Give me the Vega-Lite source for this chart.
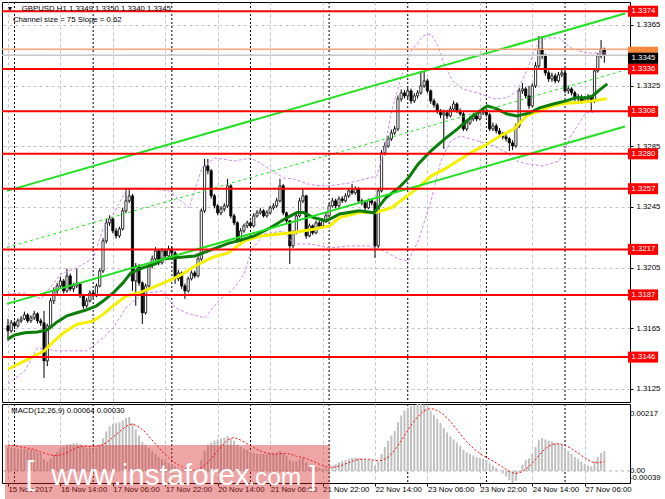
{
"$schema":"https://vega.github.io/schema/vega-lite/v6.json",
"padding":{"left":0,"top":1,"right":0,"bottom":0},
"background":"white",
"spacing":0,
"config":{"view":{"stroke":"#000","strokeWidth":1},"font":"Liberation Sans",
"axis":{"labelFont":"Liberation Sans","labelFontSize":7.8,"labelColor":"#000","gridColor":"#c4c4c4","gridDash":[3,3],"gridWidth":1,"domain":false,"title":null}},
"datasets":{
"bars":[
{"i":0,"o":1.31666,"h":1.31712,"l":1.31567,"c":1.31633,"m":0.00075,"s":0.00084},
{"i":1,"o":1.31633,"h":1.31705,"l":1.31620,"c":1.31686,"m":0.00076,"s":0.00083},
{"i":2,"o":1.31686,"h":1.31700,"l":1.31645,"c":1.31666,"m":0.00074,"s":0.00082},
{"i":3,"o":1.31666,"h":1.31715,"l":1.31655,"c":1.31699,"m":0.00073,"s":0.00080},
{"i":4,"o":1.31699,"h":1.31730,"l":1.31685,"c":1.31712,"m":0.00072,"s":0.00078},
{"i":5,"o":1.31712,"h":1.31760,"l":1.31705,"c":1.31738,"m":0.00072,"s":0.00076},
{"i":6,"o":1.31738,"h":1.31750,"l":1.31685,"c":1.31699,"m":0.00070,"s":0.00074},
{"i":7,"o":1.31699,"h":1.31735,"l":1.31686,"c":1.31719,"m":0.00070,"s":0.00072},
{"i":8,"o":1.31719,"h":1.31765,"l":1.31705,"c":1.31745,"m":0.00068,"s":0.00070},
{"i":9,"o":1.31745,"h":1.31755,"l":1.31680,"c":1.31699,"m":0.00062,"s":0.00066},
{"i":10,"o":1.31699,"h":1.31715,"l":1.31665,"c":1.31686,"m":0.00058,"s":0.00062},
{"i":11,"o":1.31686,"h":1.31765,"l":1.31323,"c":1.31435,"m":0.00038,"s":0.00058},
{"i":12,"o":1.31435,"h":1.31680,"l":1.31400,"c":1.31666,"m":0.00030,"s":0.00055},
{"i":13,"o":1.31666,"h":1.31850,"l":1.31650,"c":1.31831,"m":0.00040,"s":0.00052},
{"i":14,"o":1.31831,"h":1.31920,"l":1.31810,"c":1.31896,"m":0.00052,"s":0.00050},
{"i":15,"o":1.31896,"h":1.31950,"l":1.31875,"c":1.31929,"m":0.00062,"s":0.00050},
{"i":16,"o":1.31929,"h":1.31990,"l":1.31910,"c":1.31962,"m":0.00072,"s":0.00052},
{"i":17,"o":1.31962,"h":1.31975,"l":1.31880,"c":1.31896,"m":0.00078,"s":0.00055},
{"i":18,"o":1.31896,"h":1.32042,"l":1.31885,"c":1.31995,"m":0.00086,"s":0.00060},
{"i":19,"o":1.31995,"h":1.32010,"l":1.31895,"c":1.31910,"m":0.00088,"s":0.00065},
{"i":20,"o":1.31910,"h":1.31950,"l":1.31890,"c":1.31929,"m":0.00090,"s":0.00070},
{"i":21,"o":1.31929,"h":1.32042,"l":1.31915,"c":1.31943,"m":0.00090,"s":0.00075},
{"i":22,"o":1.31943,"h":1.31955,"l":1.31850,"c":1.31864,"m":0.00086,"s":0.00079},
{"i":23,"o":1.31864,"h":1.31875,"l":1.31778,"c":1.31798,"m":0.00078,"s":0.00081},
{"i":24,"o":1.31798,"h":1.31850,"l":1.31785,"c":1.31831,"m":0.00074,"s":0.00080},
{"i":25,"o":1.31831,"h":1.31900,"l":1.31820,"c":1.31883,"m":0.00074,"s":0.00079},
{"i":26,"o":1.31883,"h":1.31900,"l":1.31850,"c":1.31864,"m":0.00072,"s":0.00079},
{"i":27,"o":1.31864,"h":1.31945,"l":1.31855,"c":1.31929,"m":0.00076,"s":0.00080},
{"i":28,"o":1.31929,"h":1.32045,"l":1.31920,"c":1.32028,"m":0.00085,"s":0.00082},
{"i":29,"o":1.32028,"h":1.32245,"l":1.32015,"c":1.32226,"m":0.00105,"s":0.00086},
{"i":30,"o":1.32226,"h":1.32370,"l":1.32210,"c":1.32345,"m":0.00128,"s":0.00092},
{"i":31,"o":1.32345,"h":1.32395,"l":1.32325,"c":1.32371,"m":0.00145,"s":0.00100},
{"i":32,"o":1.32371,"h":1.32380,"l":1.32275,"c":1.32292,"m":0.00152,"s":0.00109},
{"i":33,"o":1.32292,"h":1.32310,"l":1.32240,"c":1.32259,"m":0.00155,"s":0.00118},
{"i":34,"o":1.32259,"h":1.32320,"l":1.32245,"c":1.32305,"m":0.00158,"s":0.00127},
{"i":35,"o":1.32305,"h":1.32445,"l":1.32295,"c":1.32424,"m":0.00165,"s":0.00136},
{"i":36,"o":1.32424,"h":1.32569,"l":1.32410,"c":1.32490,"m":0.00172,"s":0.00144},
{"i":37,"o":1.32490,"h":1.32569,"l":1.32475,"c":1.32523,"m":0.00175,"s":0.00150},
{"i":38,"o":1.32523,"h":1.32535,"l":1.31896,"c":1.31962,"m":0.00155,"s":0.00152},
{"i":39,"o":1.31962,"h":1.32080,"l":1.31798,"c":1.32061,"m":0.00135,"s":0.00148},
{"i":40,"o":1.32061,"h":1.32075,"l":1.31930,"c":1.31949,"m":0.00115,"s":0.00142},
{"i":41,"o":1.31949,"h":1.31960,"l":1.31679,"c":1.31752,"m":0.00095,"s":0.00134},
{"i":42,"o":1.31752,"h":1.31945,"l":1.31740,"c":1.31929,"m":0.00085,"s":0.00124},
{"i":43,"o":1.31929,"h":1.32080,"l":1.31920,"c":1.32061,"m":0.00075,"s":0.00112},
{"i":44,"o":1.32061,"h":1.32130,"l":1.32045,"c":1.32107,"m":0.00065,"s":0.00100},
{"i":45,"o":1.32107,"h":1.32185,"l":1.32095,"c":1.32160,"m":0.00055,"s":0.00088},
{"i":46,"o":1.32160,"h":1.32170,"l":1.32065,"c":1.32081,"m":0.00045,"s":0.00076},
{"i":47,"o":1.32081,"h":1.32180,"l":1.32070,"c":1.32160,"m":0.00038,"s":0.00064},
{"i":48,"o":1.32160,"h":1.32175,"l":1.32110,"c":1.32127,"m":0.00030,"s":0.00053},
{"i":49,"o":1.32127,"h":1.32195,"l":1.32115,"c":1.32173,"m":0.00025,"s":0.00043},
{"i":50,"o":1.32173,"h":1.32190,"l":1.32130,"c":1.32147,"m":0.00022,"s":0.00034},
{"i":51,"o":1.32147,"h":1.32160,"l":1.31943,"c":1.31976,"m":0.00015,"s":0.00026},
{"i":52,"o":1.31976,"h":1.32035,"l":1.31960,"c":1.32015,"m":0.00010,"s":0.00020},
{"i":53,"o":1.32015,"h":1.32025,"l":1.31910,"c":1.31929,"m":0.00005,"s":0.00014},
{"i":54,"o":1.31929,"h":1.31945,"l":1.31844,"c":1.31896,"m":0.00000,"s":0.00009},
{"i":55,"o":1.31896,"h":1.31990,"l":1.31885,"c":1.31976,"m":-0.00002,"s":0.00005},
{"i":56,"o":1.31976,"h":1.32030,"l":1.31965,"c":1.32015,"m":-0.00002,"s":0.00003},
{"i":57,"o":1.32015,"h":1.32030,"l":1.31980,"c":1.31995,"m":0.00000,"s":0.00003},
{"i":58,"o":1.31995,"h":1.32125,"l":1.31985,"c":1.32107,"m":0.00008,"s":0.00005},
{"i":59,"o":1.32107,"h":1.32440,"l":1.32095,"c":1.32424,"m":0.00035,"s":0.00010},
{"i":60,"o":1.32424,"h":1.32767,"l":1.32410,"c":1.32720,"m":0.00065,"s":0.00018},
{"i":61,"o":1.32720,"h":1.32767,"l":1.32665,"c":1.32688,"m":0.00085,"s":0.00028},
{"i":62,"o":1.32688,"h":1.32700,"l":1.32505,"c":1.32523,"m":0.00092,"s":0.00040},
{"i":63,"o":1.32523,"h":1.32535,"l":1.32440,"c":1.32457,"m":0.00098,"s":0.00052},
{"i":64,"o":1.32457,"h":1.32470,"l":1.32395,"c":1.32411,"m":0.00102,"s":0.00065},
{"i":65,"o":1.32411,"h":1.32455,"l":1.32395,"c":1.32437,"m":0.00105,"s":0.00078},
{"i":66,"o":1.32437,"h":1.32475,"l":1.32420,"c":1.32457,"m":0.00108,"s":0.00090},
{"i":67,"o":1.32457,"h":1.32635,"l":1.32445,"c":1.32589,"m":0.00112,"s":0.00100},
{"i":68,"o":1.32589,"h":1.32600,"l":1.32375,"c":1.32391,"m":0.00105,"s":0.00106},
{"i":69,"o":1.32391,"h":1.32405,"l":1.32330,"c":1.32345,"m":0.00098,"s":0.00108},
{"i":70,"o":1.32345,"h":1.32355,"l":1.32213,"c":1.32226,"m":0.00085,"s":0.00105},
{"i":71,"o":1.32226,"h":1.32310,"l":1.32215,"c":1.32292,"m":0.00078,"s":0.00100},
{"i":72,"o":1.32292,"h":1.32340,"l":1.32280,"c":1.32325,"m":0.00072,"s":0.00094},
{"i":73,"o":1.32325,"h":1.32360,"l":1.32310,"c":1.32345,"m":0.00068,"s":0.00088},
{"i":74,"o":1.32345,"h":1.32360,"l":1.32310,"c":1.32325,"m":0.00062,"s":0.00082},
{"i":75,"o":1.32325,"h":1.32410,"l":1.32315,"c":1.32391,"m":0.00058,"s":0.00076},
{"i":76,"o":1.32391,"h":1.32430,"l":1.32380,"c":1.32411,"m":0.00056,"s":0.00070},
{"i":77,"o":1.32411,"h":1.32445,"l":1.32400,"c":1.32424,"m":0.00055,"s":0.00065},
{"i":78,"o":1.32424,"h":1.32435,"l":1.32380,"c":1.32391,"m":0.00055,"s":0.00061},
{"i":79,"o":1.32391,"h":1.32430,"l":1.32380,"c":1.32411,"m":0.00055,"s":0.00058},
{"i":80,"o":1.32411,"h":1.32460,"l":1.32400,"c":1.32444,"m":0.00056,"s":0.00056},
{"i":81,"o":1.32444,"h":1.32475,"l":1.32430,"c":1.32457,"m":0.00058,"s":0.00055},
{"i":82,"o":1.32457,"h":1.32510,"l":1.32445,"c":1.32490,"m":0.00060,"s":0.00055},
{"i":83,"o":1.32490,"h":1.32635,"l":1.32480,"c":1.32589,"m":0.00065,"s":0.00056},
{"i":84,"o":1.32589,"h":1.32600,"l":1.32395,"c":1.32411,"m":0.00058,"s":0.00057},
{"i":85,"o":1.32411,"h":1.32420,"l":1.32340,"c":1.32358,"m":0.00050,"s":0.00057},
{"i":86,"o":1.32358,"h":1.32365,"l":1.32074,"c":1.32193,"m":0.00035,"s":0.00055},
{"i":87,"o":1.32193,"h":1.32295,"l":1.32180,"c":1.32279,"m":0.00030,"s":0.00052},
{"i":88,"o":1.32279,"h":1.32410,"l":1.32270,"c":1.32391,"m":0.00032,"s":0.00048},
{"i":89,"o":1.32391,"h":1.32510,"l":1.32380,"c":1.32490,"m":0.00038,"s":0.00045},
{"i":90,"o":1.32490,"h":1.32575,"l":1.32475,"c":1.32523,"m":0.00042,"s":0.00043},
{"i":91,"o":1.32523,"h":1.32530,"l":1.32240,"c":1.32259,"m":0.00028,"s":0.00040},
{"i":92,"o":1.32259,"h":1.32340,"l":1.32250,"c":1.32325,"m":0.00020,"s":0.00036},
{"i":93,"o":1.32325,"h":1.32335,"l":1.32265,"c":1.32279,"m":0.00015,"s":0.00032},
{"i":94,"o":1.32279,"h":1.32360,"l":1.32270,"c":1.32345,"m":0.00012,"s":0.00027},
{"i":95,"o":1.32345,"h":1.32360,"l":1.32310,"c":1.32325,"m":0.00010,"s":0.00022},
{"i":96,"o":1.32325,"h":1.32375,"l":1.32315,"c":1.32358,"m":0.00008,"s":0.00018},
{"i":97,"o":1.32358,"h":1.32410,"l":1.32345,"c":1.32391,"m":0.00008,"s":0.00014},
{"i":98,"o":1.32391,"h":1.32475,"l":1.32380,"c":1.32457,"m":0.00012,"s":0.00012},
{"i":99,"o":1.32457,"h":1.32510,"l":1.32445,"c":1.32490,"m":0.00018,"s":0.00012},
{"i":100,"o":1.32490,"h":1.32505,"l":1.32440,"c":1.32457,"m":0.00022,"s":0.00013},
{"i":101,"o":1.32457,"h":1.32520,"l":1.32445,"c":1.32503,"m":0.00028,"s":0.00016},
{"i":102,"o":1.32503,"h":1.32520,"l":1.32475,"c":1.32490,"m":0.00032,"s":0.00019},
{"i":103,"o":1.32490,"h":1.32540,"l":1.32480,"c":1.32523,"m":0.00036,"s":0.00023},
{"i":104,"o":1.32523,"h":1.32575,"l":1.32510,"c":1.32556,"m":0.00040,"s":0.00027},
{"i":105,"o":1.32556,"h":1.32602,"l":1.32530,"c":1.32543,"m":0.00042,"s":0.00031},
{"i":106,"o":1.32543,"h":1.32585,"l":1.32530,"c":1.32569,"m":0.00044,"s":0.00035},
{"i":107,"o":1.32569,"h":1.32580,"l":1.32475,"c":1.32490,"m":0.00042,"s":0.00037},
{"i":108,"o":1.32490,"h":1.32505,"l":1.32460,"c":1.32477,"m":0.00040,"s":0.00038},
{"i":109,"o":1.32477,"h":1.32490,"l":1.32430,"c":1.32444,"m":0.00036,"s":0.00038},
{"i":110,"o":1.32444,"h":1.32505,"l":1.32435,"c":1.32490,"m":0.00036,"s":0.00038},
{"i":111,"o":1.32490,"h":1.32505,"l":1.32460,"c":1.32477,"m":0.00035,"s":0.00037},
{"i":112,"o":1.32477,"h":1.32490,"l":1.32114,"c":1.32193,"m":0.00018,"s":0.00034},
{"i":113,"o":1.32193,"h":1.32575,"l":1.32180,"c":1.32556,"m":0.00030,"s":0.00033},
{"i":114,"o":1.32556,"h":1.32825,"l":1.32545,"c":1.32806,"m":0.00055,"s":0.00034},
{"i":115,"o":1.32806,"h":1.32875,"l":1.32790,"c":1.32852,"m":0.00078,"s":0.00038},
{"i":116,"o":1.32852,"h":1.32920,"l":1.32840,"c":1.32899,"m":0.00098,"s":0.00045},
{"i":117,"o":1.32899,"h":1.32960,"l":1.32885,"c":1.32938,"m":0.00115,"s":0.00055},
{"i":118,"o":1.32938,"h":1.32985,"l":1.32925,"c":1.32964,"m":0.00130,"s":0.00068},
{"i":119,"o":1.32964,"h":1.33185,"l":1.32950,"c":1.33162,"m":0.00158,"s":0.00082},
{"i":120,"o":1.33162,"h":1.33225,"l":1.33145,"c":1.33202,"m":0.00180,"s":0.00098},
{"i":121,"o":1.33202,"h":1.33220,"l":1.33165,"c":1.33182,"m":0.00195,"s":0.00115},
{"i":122,"o":1.33182,"h":1.33235,"l":1.33165,"c":1.33215,"m":0.00205,"s":0.00132},
{"i":123,"o":1.33215,"h":1.33230,"l":1.33130,"c":1.33149,"m":0.00210,"s":0.00148},
{"i":124,"o":1.33149,"h":1.33200,"l":1.33135,"c":1.33182,"m":0.00213,"s":0.00162},
{"i":125,"o":1.33182,"h":1.33220,"l":1.33165,"c":1.33202,"m":0.00217,"s":0.00175},
{"i":126,"o":1.33202,"h":1.33347,"l":1.33190,"c":1.33248,"m":0.00217,"s":0.00186},
{"i":127,"o":1.33248,"h":1.33347,"l":1.33235,"c":1.33281,"m":0.00215,"s":0.00195},
{"i":128,"o":1.33281,"h":1.33295,"l":1.33200,"c":1.33215,"m":0.00208,"s":0.00200},
{"i":129,"o":1.33215,"h":1.33225,"l":1.33130,"c":1.33149,"m":0.00195,"s":0.00202},
{"i":130,"o":1.33149,"h":1.33165,"l":1.33105,"c":1.33123,"m":0.00182,"s":0.00200},
{"i":131,"o":1.33123,"h":1.33135,"l":1.33065,"c":1.33083,"m":0.00168,"s":0.00196},
{"i":132,"o":1.33083,"h":1.33095,"l":1.33035,"c":1.33057,"m":0.00155,"s":0.00190},
{"i":133,"o":1.33057,"h":1.33090,"l":1.32833,"c":1.33070,"m":0.00140,"s":0.00182},
{"i":134,"o":1.33070,"h":1.33090,"l":1.33030,"c":1.33050,"m":0.00125,"s":0.00172},
{"i":135,"o":1.33050,"h":1.33115,"l":1.33040,"c":1.33096,"m":0.00112,"s":0.00160},
{"i":136,"o":1.33096,"h":1.33150,"l":1.33085,"c":1.33129,"m":0.00102,"s":0.00147},
{"i":137,"o":1.33129,"h":1.33140,"l":1.33070,"c":1.33083,"m":0.00092,"s":0.00134},
{"i":138,"o":1.33083,"h":1.33100,"l":1.33050,"c":1.33063,"m":0.00082,"s":0.00120},
{"i":139,"o":1.33063,"h":1.33075,"l":1.32950,"c":1.32964,"m":0.00068,"s":0.00107},
{"i":140,"o":1.32964,"h":1.33020,"l":1.32950,"c":1.33004,"m":0.00060,"s":0.00095},
{"i":141,"o":1.33004,"h":1.33050,"l":1.32990,"c":1.33030,"m":0.00055,"s":0.00084},
{"i":142,"o":1.33030,"h":1.33070,"l":1.33015,"c":1.33050,"m":0.00050,"s":0.00074},
{"i":143,"o":1.33050,"h":1.33065,"l":1.33015,"c":1.33030,"m":0.00045,"s":0.00065},
{"i":144,"o":1.33030,"h":1.33090,"l":1.33020,"c":1.33070,"m":0.00042,"s":0.00057},
{"i":145,"o":1.33070,"h":1.33105,"l":1.33055,"c":1.33083,"m":0.00040,"s":0.00050},
{"i":146,"o":1.33083,"h":1.33100,"l":1.33045,"c":1.33057,"m":0.00036,"s":0.00044},
{"i":147,"o":1.33057,"h":1.33070,"l":1.32950,"c":1.32964,"m":0.00025,"s":0.00038},
{"i":148,"o":1.32964,"h":1.33005,"l":1.32950,"c":1.32984,"m":0.00018,"s":0.00032},
{"i":149,"o":1.32984,"h":1.33000,"l":1.32935,"c":1.32951,"m":0.00010,"s":0.00026},
{"i":150,"o":1.32951,"h":1.32970,"l":1.32915,"c":1.32931,"m":0.00002,"s":0.00019},
{"i":151,"o":1.32931,"h":1.32945,"l":1.32895,"c":1.32912,"m":-0.00008,"s":0.00012},
{"i":152,"o":1.32912,"h":1.32930,"l":1.32880,"c":1.32899,"m":-0.00018,"s":0.00005},
{"i":153,"o":1.32899,"h":1.32910,"l":1.32819,"c":1.32872,"m":-0.00030,"s":-0.00002},
{"i":154,"o":1.32872,"h":1.32890,"l":1.32825,"c":1.32852,"m":-0.00039,"s":-0.00006},
{"i":155,"o":1.32852,"h":1.33000,"l":1.32840,"c":1.32984,"m":-0.00032,"s":-0.00008},
{"i":156,"o":1.32984,"h":1.33235,"l":1.32970,"c":1.33215,"m":-0.00005,"s":-0.00006},
{"i":157,"o":1.33215,"h":1.33268,"l":1.33195,"c":1.33228,"m":0.00020,"s":-0.00002},
{"i":158,"o":1.33228,"h":1.33240,"l":1.33165,"c":1.33182,"m":0.00035,"s":0.00005},
{"i":159,"o":1.33182,"h":1.33248,"l":1.33096,"c":1.33116,"m":0.00040,"s":0.00014},
{"i":160,"o":1.33116,"h":1.33265,"l":1.33105,"c":1.33248,"m":0.00055,"s":0.00025},
{"i":161,"o":1.33248,"h":1.33405,"l":1.33235,"c":1.33380,"m":0.00078,"s":0.00037},
{"i":162,"o":1.33380,"h":1.33577,"l":1.33365,"c":1.33492,"m":0.00100,"s":0.00050},
{"i":163,"o":1.33492,"h":1.33577,"l":1.33425,"c":1.33446,"m":0.00107,"s":0.00062},
{"i":164,"o":1.33446,"h":1.33460,"l":1.33315,"c":1.33334,"m":0.00102,"s":0.00072},
{"i":165,"o":1.33334,"h":1.33350,"l":1.33275,"c":1.33294,"m":0.00098,"s":0.00080},
{"i":166,"o":1.33294,"h":1.33335,"l":1.33275,"c":1.33314,"m":0.00095,"s":0.00085},
{"i":167,"o":1.33314,"h":1.33330,"l":1.33265,"c":1.33281,"m":0.00090,"s":0.00088},
{"i":168,"o":1.33281,"h":1.33340,"l":1.33270,"c":1.33321,"m":0.00088,"s":0.00088},
{"i":169,"o":1.33321,"h":1.33360,"l":1.33305,"c":1.33334,"m":0.00085,"s":0.00086},
{"i":170,"o":1.33334,"h":1.33345,"l":1.33200,"c":1.33215,"m":0.00075,"s":0.00083},
{"i":171,"o":1.33215,"h":1.33250,"l":1.33195,"c":1.33228,"m":0.00065,"s":0.00078},
{"i":172,"o":1.33228,"h":1.33240,"l":1.33185,"c":1.33202,"m":0.00055,"s":0.00072},
{"i":173,"o":1.33202,"h":1.33215,"l":1.33145,"c":1.33162,"m":0.00045,"s":0.00065},
{"i":174,"o":1.33162,"h":1.33195,"l":1.33145,"c":1.33175,"m":0.00038,"s":0.00058},
{"i":175,"o":1.33175,"h":1.33190,"l":1.33130,"c":1.33149,"m":0.00030,"s":0.00050},
{"i":176,"o":1.33149,"h":1.33180,"l":1.33135,"c":1.33162,"m":0.00022,"s":0.00043},
{"i":177,"o":1.33162,"h":1.33195,"l":1.33145,"c":1.33175,"m":0.00018,"s":0.00036},
{"i":178,"o":1.33175,"h":1.33185,"l":1.33083,"c":1.33149,"m":0.00015,"s":0.00030},
{"i":179,"o":1.33149,"h":1.33365,"l":1.33135,"c":1.33347,"m":0.00032,"s":0.00027},
{"i":180,"o":1.33347,"h":1.33465,"l":1.33335,"c":1.33446,"m":0.00045,"s":0.00027},
{"i":181,"o":1.33446,"h":1.33550,"l":1.33430,"c":1.33492,"m":0.00058,"s":0.00028},
{"i":182,"o":1.33490,"h":1.33500,"l":1.33400,"c":1.33450,"m":0.00064,"s":0.00030}
],
"mag":[
{"i":0,"p":1.31580},{"i":2.1,"p":1.31606},{"i":5.1,"p":1.31620},{"i":9,"p":1.31626},{"i":12,"p":1.31639},{"i":15,"p":1.31692},{"i":18,"p":1.31732},{"i":21,"p":1.31752},{"i":24,"p":1.31771},{"i":27,"p":1.31798},{"i":29.1,"p":1.31831},{"i":32.1,"p":1.31883},{"i":35.1,"p":1.31949},{"i":37.5,"p":1.32015},{"i":41.1,"p":1.32048},{"i":45,"p":1.32074},{"i":47.1,"p":1.32106},{"i":50.2,"p":1.32114},{"i":57.1,"p":1.32127},{"i":67.2,"p":1.32210},{"i":70.2,"p":1.32226},{"i":75.2,"p":1.32259},{"i":80.2,"p":1.32314},{"i":85.2,"p":1.32380},{"i":88.2,"p":1.32413},{"i":90.2,"p":1.32413},{"i":93.2,"p":1.32380},{"i":97.2,"p":1.32358},{"i":101.2,"p":1.32404},{"i":107.2,"p":1.32424},{"i":111.7,"p":1.32411},{"i":115.3,"p":1.32510},{"i":119.2,"p":1.32575},{"i":122.2,"p":1.32641},{"i":125.2,"p":1.32734},{"i":129.1,"p":1.32819},{"i":133.3,"p":1.32899},{"i":137.2,"p":1.32964},{"i":141.1,"p":1.33037},{"i":143.2,"p":1.33070},{"i":146.2,"p":1.33116},{"i":149.2,"p":1.33096},{"i":152.3,"p":1.33063},{"i":155.3,"p":1.33050},{"i":159.2,"p":1.33070},{"i":162.2,"p":1.33103},{"i":166.4,"p":1.33129},{"i":170.3,"p":1.33149},{"i":173.3,"p":1.33169},{"i":176.3,"p":1.33169},{"i":178.4,"p":1.33182},{"i":180.2,"p":1.33215},{"i":182.9,"p":1.33261}
],
"may":[
{"i":0,"p":1.31380},{"i":5.1,"p":1.31435},{"i":11.1,"p":1.31501},{"i":14.1,"p":1.31567},{"i":17.1,"p":1.31622},{"i":21.1,"p":1.31677},{"i":26.1,"p":1.31699},{"i":29.1,"p":1.31743},{"i":32.1,"p":1.31798},{"i":36.1,"p":1.31864},{"i":40.2,"p":1.31885},{"i":44.1,"p":1.31918},{"i":50.2,"p":1.31974},{"i":53.2,"p":1.32007},{"i":57.1,"p":1.32061},{"i":62.2,"p":1.32116},{"i":67.2,"p":1.32147},{"i":72.2,"p":1.32226},{"i":77.2,"p":1.32259},{"i":82.2,"p":1.32270},{"i":87.2,"p":1.32281},{"i":93.2,"p":1.32303},{"i":98.2,"p":1.32325},{"i":101.2,"p":1.32380},{"i":107.2,"p":1.32413},{"i":112.2,"p":1.32413},{"i":117.2,"p":1.32446},{"i":121.2,"p":1.32512},{"i":125.2,"p":1.32577},{"i":129.2,"p":1.32655},{"i":133.2,"p":1.32699},{"i":137.2,"p":1.32753},{"i":141.2,"p":1.32808},{"i":145.3,"p":1.32852},{"i":150.2,"p":1.32918},{"i":154.3,"p":1.32962},{"i":158.3,"p":1.33050},{"i":162.3,"p":1.33083},{"i":166.3,"p":1.33116},{"i":170.3,"p":1.33134},{"i":174.3,"p":1.33138},{"i":178.3,"p":1.33149},{"i":182.8,"p":1.33164}
],
"bb":[
{"k":"u","i":0,"p":1.31877},{"k":"u","i":5.1,"p":1.31883},{"k":"u","i":10.2,"p":1.31844},{"k":"u","i":16.2,"p":1.32009},{"k":"u","i":21,"p":1.32048},{"k":"u","i":26.1,"p":1.32114},{"k":"u","i":29.1,"p":1.32312},{"k":"u","i":32.1,"p":1.32404},{"k":"u","i":36,"p":1.32556},{"k":"u","i":39,"p":1.32575},{"k":"u","i":44.1,"p":1.32569},{"k":"u","i":49.2,"p":1.32556},{"k":"u","i":55.3,"p":1.32444},{"k":"u","i":59.2,"p":1.32707},{"k":"u","i":63.1,"p":1.32773},{"k":"u","i":69.1,"p":1.32753},{"k":"u","i":74.2,"p":1.32773},{"k":"u","i":79.3,"p":1.32707},{"k":"u","i":84.1,"p":1.32641},{"k":"u","i":87.1,"p":1.32635},{"k":"u","i":91.3,"p":1.32602},{"k":"u","i":95.2,"p":1.32589},{"k":"u","i":98.2,"p":1.32589},{"k":"u","i":104.2,"p":1.32608},{"k":"u","i":110.2,"p":1.32641},{"k":"u","i":112.6,"p":1.32655},{"k":"u","i":114.7,"p":1.32819},{"k":"u","i":117.1,"p":1.33083},{"k":"u","i":120.1,"p":1.33314},{"k":"u","i":123.1,"p":1.33479},{"k":"u","i":126.7,"p":1.33577},{"k":"u","i":129.1,"p":1.33591},{"k":"u","i":131.2,"p":1.33512},{"k":"u","i":133.3,"p":1.33380},{"k":"u","i":135.7,"p":1.33281},{"k":"u","i":138.7,"p":1.33228},{"k":"u","i":143.2,"p":1.33202},{"k":"u","i":148.3,"p":1.33162},{"k":"u","i":152.3,"p":1.33169},{"k":"u","i":155.3,"p":1.33215},{"k":"u","i":158.3,"p":1.33347},{"k":"u","i":161.3,"p":1.33512},{"k":"u","i":164.3,"p":1.33564},{"k":"u","i":168.2,"p":1.33564},{"k":"u","i":171.8,"p":1.33498},{"k":"u","i":176.3,"p":1.33465},{"k":"u","i":182.9,"p":1.33465},
{"k":"l","i":0,"p":1.31283},{"k":"l","i":5.1,"p":1.31369},{"k":"l","i":9,"p":1.31521},{"k":"l","i":15,"p":1.31501},{"k":"l","i":19.2,"p":1.31501},{"k":"l","i":24,"p":1.31501},{"k":"l","i":29.1,"p":1.31587},{"k":"l","i":32.1,"p":1.31653},{"k":"l","i":36,"p":1.31785},{"k":"l","i":41.1,"p":1.31877},{"k":"l","i":47.1,"p":1.31896},{"k":"l","i":51.1,"p":1.31785},{"k":"l","i":55.3,"p":1.31745},{"k":"l","i":60.1,"p":1.31719},{"k":"l","i":64.3,"p":1.31831},{"k":"l","i":69.1,"p":1.31916},{"k":"l","i":72.1,"p":1.32009},{"k":"l","i":74.2,"p":1.32160},{"k":"l","i":78.1,"p":1.32272},{"k":"l","i":84.1,"p":1.32292},{"k":"l","i":87.1,"p":1.32206},{"k":"l","i":92.2,"p":1.32206},{"k":"l","i":98.2,"p":1.32180},{"k":"l","i":104.2,"p":1.32193},{"k":"l","i":110.2,"p":1.32193},{"k":"l","i":114.7,"p":1.32160},{"k":"l","i":119.2,"p":1.32107},{"k":"l","i":122.2,"p":1.32094},{"k":"l","i":125.2,"p":1.32226},{"k":"l","i":129.1,"p":1.32490},{"k":"l","i":132.1,"p":1.32753},{"k":"l","i":135.1,"p":1.32885},{"k":"l","i":138.1,"p":1.32918},{"k":"l","i":143.2,"p":1.32885},{"k":"l","i":148.3,"p":1.32852},{"k":"l","i":152.3,"p":1.32806},{"k":"l","i":155.3,"p":1.32753},{"k":"l","i":158.3,"p":1.32734},{"k":"l","i":163.4,"p":1.32720},{"k":"l","i":168.2,"p":1.32753},{"k":"l","i":171.8,"p":1.32918},{"k":"l","i":176.3,"p":1.33070},{"k":"l","i":182.9,"p":1.33083}
],
"chan":[
{"k":"u","i":-0.3,"p":1.32556},{"k":"u","i":188.3,"p":1.33725},
{"k":"l","i":-0.3,"p":1.31811},{"k":"l","i":188.3,"p":1.32980},
{"k":"m","i":-0.3,"p":1.32183},{"k":"m","i":188.3,"p":1.33352}
],
"lev":[{"p":1.3374},{"p":1.3336},{"p":1.3308},{"p":1.3280},{"p":1.3257},{"p":1.3217},{"p":1.3187},{"p":1.3146}],
"bid":[{"k":"a","p":1.3349},{"k":"b","p":1.3345}],
"seps":[{"i":2},{"i":26},{"i":50},{"i":74},{"i":98},{"i":122},{"i":146},{"i":170}]
},
"vconcat":[
{
"width":628,"height":400,
"layer":[
{"data":{"name":"seps"},"mark":{"type":"rule","color":"#000","strokeDash":[2,2],"strokeWidth":1},
 "encoding":{"x":{"field":"i","type":"quantitative","scale":{"domain":[-0.3,188.3],"nice":false,"zero":false},
   "axis":{"orient":"bottom","values":[0,8,16,24,32,40,48,56,64,72,80,88,96,104,112,120,128,136,144,152,160,168,176,184],"grid":true,"labels":false,"ticks":false,"domain":false}}}},
{"data":{"name":"bars"},"mark":{"type":"rule","color":"#000","strokeWidth":1},
 "encoding":{"x":{"field":"i","type":"quantitative"},
  "y":{"field":"l","type":"quantitative","scale":{"domain":[1.31164,1.33801],"nice":false,"zero":false},
   "axis":{"orient":"right","values":[1.3125,1.3145,1.3165,1.3185,1.3205,1.3225,1.3245,1.3265,1.3285,1.3305,1.3325,1.3345,1.3365],"format":".4f","grid":true,"ticks":true,"tickSize":3,"tickColor":"#000","labelPadding":3,"labelBaseline":"middle"}},
  "y2":{"field":"h"}}},
{"data":{"name":"bars"},"mark":{"type":"bar","width":2.2,"stroke":"#000","strokeWidth":0.8},
 "encoding":{"x":{"field":"i","type":"quantitative"},"y":{"field":"o","type":"quantitative"},"y2":{"field":"c"},
  "color":{"condition":{"test":"datum.c >= datum.o","value":"#ffffff"},"value":"#000000"}}},
{"data":{"name":"bb"},"mark":{"type":"line","color":"#c98ae8","strokeDash":[3,2],"strokeWidth":1,"clip":true},
 "encoding":{"x":{"field":"i","type":"quantitative"},"y":{"field":"p","type":"quantitative"},"detail":{"field":"k"}}},
{"data":{"name":"may"},"mark":{"type":"line","color":"#f5f000","strokeWidth":3,"clip":true},
 "encoding":{"x":{"field":"i","type":"quantitative"},"y":{"field":"p","type":"quantitative"}}},
{"data":{"name":"mag"},"mark":{"type":"line","color":"#0b7d0b","strokeWidth":3,"clip":true},
 "encoding":{"x":{"field":"i","type":"quantitative"},"y":{"field":"p","type":"quantitative"}}},
{"data":{"name":"chan"},"transform":[{"filter":"datum.k != 'm'"}],"mark":{"type":"line","color":"#22e022","strokeWidth":2,"clip":true},
 "encoding":{"x":{"field":"i","type":"quantitative"},"y":{"field":"p","type":"quantitative"},"detail":{"field":"k"}}},
{"data":{"name":"chan"},"transform":[{"filter":"datum.k == 'm'"}],"mark":{"type":"line","color":"#22e022","strokeWidth":1,"strokeDash":[3,3],"clip":true},
 "encoding":{"x":{"field":"i","type":"quantitative"},"y":{"field":"p","type":"quantitative"}}},
{"data":{"name":"bid"},"mark":{"type":"rule","strokeWidth":1.5},
 "encoding":{"y":{"field":"p","type":"quantitative"},"color":{"condition":{"test":"datum.k == 'a'","value":"#f7a27c"},"value":"#c8c8c8"}}},
{"data":{"name":"lev"},"mark":{"type":"rule","color":"#ff0000","strokeWidth":2},
 "encoding":{"y":{"field":"p","type":"quantitative"}}},
{"data":{"name":"lev"},"mark":{"type":"rule","color":"#ff0000","strokeWidth":11,"strokeCap":"butt"},
 "encoding":{"x":{"datum":189.2},"x2":{"datum":198.4},"y":{"field":"p","type":"quantitative"}}},
{"data":{"name":"lev"},"mark":{"type":"text","color":"#ffffff","fontSize":7.8,"align":"left","baseline":"middle","font":"Liberation Sans"},
 "encoding":{"x":{"datum":190.3},"y":{"field":"p","type":"quantitative"},"text":{"field":"p","type":"quantitative","format":".4f"}}},
{"data":{"name":"bid"},"mark":{"type":"rule","strokeWidth":11,"strokeCap":"butt","yOffset":3},
 "encoding":{"x":{"datum":189.2},"x2":{"datum":198.4},"y":{"field":"p","type":"quantitative"},"color":{"condition":{"test":"datum.k == 'a'","value":"#f58a3c"},"value":"#000000"}}},
{"data":{"name":"bid"},"transform":[{"filter":"datum.k == 'b'"}],"mark":{"type":"text","color":"#ffffff","fontSize":7.8,"align":"left","baseline":"middle","yOffset":3},
 "encoding":{"x":{"datum":190.3},"y":{"field":"p","type":"quantitative"},"text":{"field":"p","type":"quantitative","format":".4f"}}},
{"data":{"values":[{"t":"▼"}]},"mark":{"type":"text","fontSize":7,"align":"center","baseline":"middle","color":"#000"},
 "encoding":{"x":{"datum":0.6},"y":{"datum":1.33753},"text":{"field":"t"}}},
{"data":{"values":[{"t":"GBPUSD,H1  1.3349 1.3350 1.3340 1.3345"}]},"mark":{"type":"text","fontSize":7.8,"align":"left","baseline":"middle","color":"#000"},
 "encoding":{"x":{"datum":4.2},"y":{"datum":1.33753},"text":{"field":"t"}}},
{"data":{"values":[{"t":"Channel size = 75 Slope = 0.62"}]},"mark":{"type":"text","fontSize":7.8,"align":"left","baseline":"middle","color":"#000"},
 "encoding":{"x":{"datum":1.5},"y":{"datum":1.33680},"text":{"field":"t"}}}
]
},
{
"width":628,"height":79,
"layer":[
{"data":{"name":"seps"},"mark":{"type":"rule","color":"#000","strokeDash":[2,2],"strokeWidth":1},
 "encoding":{"x":{"field":"i","type":"quantitative","scale":{"domain":[-0.3,188.3],"nice":false,"zero":false},
   "axis":{"orient":"bottom","values":[0,8,16,24,32,40,48,56,64,72,80,88,96,104,112,120,128,136,144,152,160,168,176,184],"grid":true,
   "labelExpr":"datum.value % 16 == 0 ? ['15 Nov 2017','16 Nov 14:00','17 Nov 06:00','17 Nov 22:00','20 Nov 14:00','21 Nov 06:00','21 Nov 22:00','22 Nov 14:00','23 Nov 06:00','23 Nov 22:00','24 Nov 14:00','27 Nov 06:00'][datum.value/16] : ''",
   "labelAlign":"left","labelFlush":false,"labelOverlap":false,"labelBound":false,"ticks":true,"tickSize":3,"tickColor":"#000",
   "tickOpacity":{"condition":{"test":"datum.value % 16 == 0","value":1},"value":0},"labelPadding":-1,"domain":false}}}},
{"data":{"values":[{"z":0}]},"mark":{"type":"rule","color":"#b0b0b0","strokeDash":[3,3],"strokeWidth":1},
 "encoding":{"y":{"field":"z","type":"quantitative","scale":{"domain":[-0.00039,0.00217],"nice":false,"zero":false},"axis":null}}},
{"data":{"name":"bars"},"mark":{"type":"bar","width":2,"color":"#c0c0c0"},
 "encoding":{"x":{"field":"i","type":"quantitative"},"y":{"field":"m","type":"quantitative"},"y2":{"datum":0}}},
{"data":{"name":"bars"},"mark":{"type":"line","color":"#ff0000","strokeDash":[2,2],"strokeWidth":1},
 "encoding":{"x":{"field":"i","type":"quantitative"},"y":{"field":"s","type":"quantitative"}}},
{"data":{"values":[{"t":"MACD(12,26,9) 0.00064 0.00030"}]},"mark":{"type":"text","fontSize":7.7,"align":"left","baseline":"top","dy":3,"color":"#000"},
 "encoding":{"x":{"datum":1.0},"y":{"datum":0.00217},"text":{"field":"t"}}},
{"data":{"values":[{"t":"0.00217"}]},"mark":{"type":"text","fontSize":7.8,"align":"left","baseline":"top","dy":6,"color":"#000"},
 "encoding":{"x":{"datum":189.8},"y":{"datum":0.00217},"text":{"field":"t"}}},
{"data":{"values":[{"t":"0.00"}]},"mark":{"type":"text","fontSize":7.8,"align":"left","baseline":"middle","dy":0,"color":"#000"},
 "encoding":{"x":{"datum":189.8},"y":{"datum":0},"text":{"field":"t"}}},
{"data":{"values":[{"t":"-0.00039"}]},"mark":{"type":"text","fontSize":7.8,"align":"left","baseline":"middle","dy":7,"color":"#000"},
 "encoding":{"x":{"datum":189.8},"y":{"datum":0},"text":{"field":"t"}}},
{"data":{"values":[{"t":"wm"}]},"mark":{"type":"rect","color":"#d42828","opacity":0.42},
 "encoding":{"x":{"datum":-0.9},"x2":{"datum":98.2},"y":{"datum":0.000841},"y2":{"datum":-0.001006}}},
{"data":{"values":[{"t":"["}]},"mark":{"type":"text","fontSize":34,"align":"left","baseline":"alphabetic","color":"#ffffff","font":"Liberation Sans"},
 "encoding":{"x":{"datum":5.3},"y":{"datum":-0.00042},"text":{"field":"t"}}},
{"data":{"values":[{"t":"www.instaforex"}]},"mark":{"type":"text","fontSize":29.5,"align":"left","baseline":"alphabetic","color":"#ffffff","font":"Liberation Sans"},
 "encoding":{"x":{"datum":13.2},"y":{"datum":-0.000455},"text":{"field":"t"}}},
{"data":{"values":[{"t":".com"}]},"mark":{"type":"text","fontSize":24.5,"align":"left","baseline":"alphabetic","color":"#ffffff","font":"Liberation Sans"},
 "encoding":{"x":{"datum":73.3},"y":{"datum":-0.000455},"text":{"field":"t"}}},
{"data":{"values":[{"t":"]"}]},"mark":{"type":"text","fontSize":28,"align":"left","baseline":"alphabetic","color":"#ffffff","font":"Liberation Sans"},
 "encoding":{"x":{"datum":91.8},"y":{"datum":-0.00045},"text":{"field":"t"}}}
]
}
]
}
